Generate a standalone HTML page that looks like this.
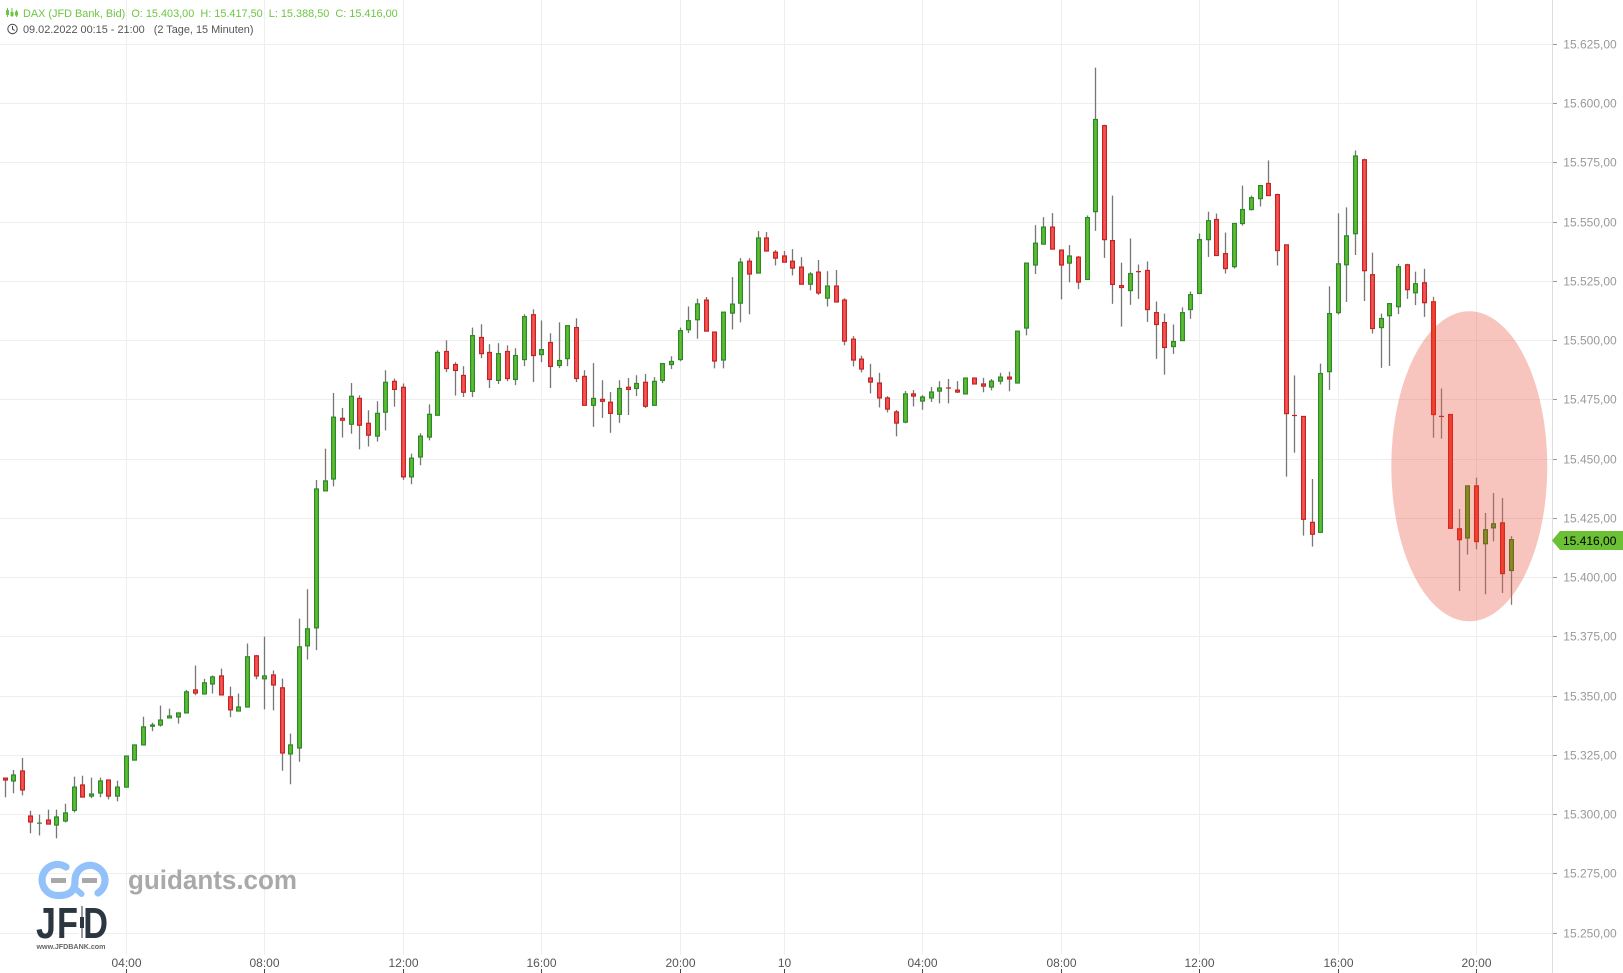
<!DOCTYPE html>
<html lang="de">
<head>
<meta charset="utf-8">
<title>DAX Candlestick Chart</title>
<style>
html,body{margin:0;padding:0;background:#fff;width:1623px;height:973px;overflow:hidden}
svg{display:block;font-family:"Liberation Sans",sans-serif}
</style>
</head>
<body>
<svg id="chart" xmlns="http://www.w3.org/2000/svg" width="1623" height="973" viewBox="0 0 1623 973">
  <rect x="0" y="0" width="1623" height="973" fill="#fff"/>
  <g id="grid"></g>
  <ellipse cx="1469.3" cy="466.3" rx="78" ry="155" fill="rgb(232,89,66)" fill-opacity="0.35"/>
  <g id="candles"></g>
  <g id="axes"></g>
  <g>
    <polygon points="1552,540.5 1560,531 1623,531 1623,550 1560,550" fill="#6cc035"/>
    <text x="1563" y="545" font-size="12" fill="#000">15.416,00</text>
  </g>
  <g>
    <g stroke="#6cc644" fill="none" stroke-width="1">
      <path d="M7.5 8v9M12 8v9M16.5 10v7"/>
      <rect x="6.5" y="10.5" width="2" height="4"/>
      <rect x="11" y="12.5" width="2" height="3"/>
      <rect x="15.5" y="12" width="2" height="3"/>
    </g>
    <text x="23" y="17" font-size="10.9" fill="#6cc644" xml:space="preserve">DAX (JFD Bank, Bid)  O: 15.403,00  H: 15.417,50  L: 15.388,50  C: 15.416,00</text>
    <g stroke="#444" fill="none" stroke-width="1">
      <circle cx="12.5" cy="29" r="4.7"/>
      <path d="M12.5 26v3.2l2.2 1.2"/>
    </g>
    <text x="23" y="33" font-size="10.9" fill="#555" xml:space="preserve">09.02.2022 00:15 - 21:00   (2 Tage, 15 Minuten)</text>
  </g>
  <g>
    <path d="M66 867A15.5 15.5 0 1 0 58 895.5Q75.5 896 75 880.5A15 15 0 1 1 98 893" fill="none" stroke="#93c2fb" stroke-width="7.2" stroke-linecap="round"/>
    <path d="M77 890L81.5 894" fill="none" stroke="#93c2fb" stroke-width="6" stroke-linecap="round"/>
    <rect x="51" y="878" width="15" height="5" fill="#a8a8a8"/>
    <rect x="82" y="878" width="15" height="5" fill="#a8a8a8"/>
    <text x="128" y="889" font-size="26.5" font-weight="bold" fill="#a9a9a9" textLength="169" lengthAdjust="spacingAndGlyphs">guidants.com</text>
    <text x="36" y="938" font-size="44" font-weight="bold" fill="#2b3640" textLength="20" lengthAdjust="spacingAndGlyphs">J</text>
    <text x="57" y="938" font-size="44" font-weight="bold" fill="#2b3640" textLength="21" lengthAdjust="spacingAndGlyphs">F</text>
    <text x="83" y="938" font-size="44" font-weight="bold" fill="#2b3640" textLength="25" lengthAdjust="spacingAndGlyphs">D</text>
    <rect x="78.5" y="905" width="7" height="35" fill="#fff"/>
    <rect x="81.5" y="906" width="1" height="32" fill="#2b3640"/>
    <rect x="80" y="917" width="4" height="11" fill="#2b3640"/>
    <text x="36.5" y="949" font-size="7" font-weight="bold" fill="#666" textLength="69" lengthAdjust="spacingAndGlyphs">www.JFDBANK.com</text>
  </g>
</svg>
<script>
var opens=[15315.4,15314.2,15318.4,15299.4,15296.3,15297.7,15295.6,15297.3,15301.8,15312.5,15307.8,15309.1,15314.6,15307.8,15311.6,15323,15329.4,15337.3,15337.8,15340.8,15341.2,15342.9,15352.6,15350.9,15355.1,15358.5,15349.7,15343.7,15345.4,15367,15357.3,15358.9,15353.5,15325.6,15328.1,15371.2,15378.8,15436.6,15441.6,15467.2,15464.7,15475.6,15465.1,15459.7,15469.8,15482.8,15480.3,15442.5,15450.9,15459.3,15468.5,15495.4,15489.9,15485.3,15478.6,15501.3,15495,15483.2,15495.4,15483.6,15492,15510.9,15494.1,15499.2,15489.5,15492.4,15505.5,15484.9,15472.7,15475.2,15474,15468.9,15480.3,15479.8,15482.4,15472.7,15483.2,15489.9,15492,15504.6,15508.8,15517.1,15503.6,15491.8,15511.6,15515.8,15533.5,15528.5,15543.3,15537.3,15535.7,15533.5,15531,15523.8,15528.9,15517.9,15523,15517.1,15500.6,15492.2,15484.2,15482.1,15475.8,15469.9,15465.6,15477.5,15474.5,15475.8,15478.7,15480,15479.1,15477.5,15484.2,15481.7,15480.4,15482.9,15484.6,15482.1,15505.3,15531.9,15540.7,15547.9,15538.2,15532.7,15535.2,15525.8,15554.4,15590.7,15542.2,15523.2,15521.1,15529.1,15529.6,15511.8,15507.6,15497.5,15500,15513.1,15519.9,15542.6,15551.1,15536.7,15531.2,15549.4,15555.3,15559.9,15566.3,15561.6,15540.4,15468.4,15468,15423.3,15419.1,15486.9,15511.8,15532,15545.1,15576.3,15527.8,15505.5,15510.5,15514.3,15532,15520.2,15524.4,15516.4,15468,15468.8,15420.6,15416.7,15438.7,15414.3,15421,15423.1,15403];
var highs=[15315.4,15318.8,15323.9,15301.6,15300,15302.1,15302.1,15304.6,15316,15316.4,15315.6,15315.6,15314.6,15314.3,15324.7,15329.4,15341.3,15338.8,15346,15344.7,15342.9,15352.6,15362.9,15357.3,15358.7,15361.6,15354,15351.1,15372.2,15367.4,15375.1,15360.8,15357.4,15334.2,15382.7,15395.1,15441.2,15454.4,15477.9,15471.6,15482.1,15476.9,15470.6,15474.4,15487.5,15484,15481.9,15452.3,15460.9,15473.1,15495.9,15500.1,15490.9,15489.2,15505.5,15506.9,15498.5,15498.9,15498,15496.8,15511.1,15513.2,15508.5,15503.1,15507.7,15506.3,15509.4,15487.5,15490.5,15483.3,15478.3,15483.3,15484.2,15485.4,15485.9,15484.6,15490.3,15493.4,15505.5,15514.4,15517.7,15518.4,15503.6,15512,15526.8,15534.8,15534.8,15546.2,15545.8,15538.2,15537.8,15538.6,15535.2,15528.9,15534,15529.3,15529.8,15517.9,15501.9,15493.6,15490.2,15486.4,15476.6,15470.7,15478.7,15479.1,15477,15480.4,15482.9,15483.8,15482.9,15484.2,15484.2,15484.3,15483.8,15486.4,15486.9,15504,15532.7,15548.7,15552.1,15553.8,15538.2,15540.3,15535.7,15552.8,15615.2,15591.1,15561.2,15532.9,15543.1,15532.1,15533.4,15516.5,15511.4,15506.8,15514,15520.7,15545.2,15554.4,15553.6,15545.6,15549.4,15565.4,15561.2,15565.4,15576,15562,15540.4,15485.3,15468,15441.6,15490.3,15522.9,15553.7,15556.2,15580.2,15576.8,15537.1,15511.4,15515.6,15532.4,15532.4,15529.1,15530.3,15518.5,15479.8,15468.8,15429,15438.7,15442.2,15427.3,15435.7,15433.6,15417.5];
var lows=[15307.3,15309,15308.1,15292.1,15291.2,15296,15290,15296.7,15300.9,15307.4,15306.9,15307.3,15306.4,15305.6,15311.6,15323,15329.4,15335.2,15337.1,15340.8,15338.4,15342.9,15350.4,15350.9,15351.1,15350.5,15341.1,15343.7,15345.4,15357.1,15344.4,15344,15318.5,15312.8,15322.3,15365.4,15369.4,15436.6,15438.5,15459.1,15460.7,15454.1,15455.3,15457.4,15462.1,15472.1,15441.2,15439.4,15447.4,15457.9,15468.5,15486.7,15476.8,15476.2,15476.2,15492.6,15480,15481.7,15482.9,15481.2,15489.2,15482.5,15490.9,15480,15488.4,15489.2,15482.5,15472.7,15463.6,15467.4,15461.1,15465.3,15468.6,15476.6,15471.6,15472.7,15482.1,15488,15491.3,15503.2,15500.8,15504,15488.3,15488.3,15504.7,15507.7,15511.1,15528.5,15537.8,15531.7,15533.1,15527.5,15523.8,15521.2,15519.3,15514.4,15516.3,15498,15489.1,15486.6,15477.7,15471.8,15469.7,15459.6,15465.1,15472.2,15470.8,15474.1,15473.5,15473.5,15477.9,15477.5,15481.7,15478.2,15479,15481.5,15478.6,15482.1,15502.2,15528.1,15540.7,15538.6,15517.4,15524.6,15521.7,15525.8,15546.3,15534.9,15515.5,15505.9,15515.1,15517.6,15507.9,15492.3,15485.6,15494.4,15500,15509.2,15519.9,15535.3,15535.9,15528.3,15530.4,15548.5,15554.9,15556.6,15561.2,15531.7,15442.6,15452.7,15417.7,15413.1,15419.1,15479.2,15511,15516.3,15536.1,15516.7,15503,15488.5,15489.3,15511.2,15517.6,15515,15510,15459,15458.6,15420.8,15394.3,15409.7,15411.9,15393,15415.3,15393.5,15388.5];
var closes=[15314.6,15316.7,15310.4,15296.9,15296.4,15296,15299,15300.7,15311.6,15307.4,15308.7,15314.2,15307.8,15311.6,15324.7,15329.4,15337,15337.8,15339.9,15341.6,15342.9,15351.8,15351.3,15355.6,15358.1,15350.5,15344.2,15345.4,15366.6,15358.5,15358.5,15354.7,15326,15329.4,15370.8,15378.4,15437.4,15440.8,15467.7,15466.4,15476.5,15464.3,15460.1,15469.3,15482.4,15479.4,15442.5,15450.4,15459.7,15468.9,15495,15488.2,15487.4,15478.2,15502.1,15494.5,15483.6,15494.5,15484,15493.7,15510.1,15493.7,15496.2,15489.1,15491.6,15506.3,15484,15472.7,15475.6,15474.4,15469.3,15479.8,15479.4,15481.9,15472.3,15482.8,15490.3,15491.2,15504.2,15508.4,15515.5,15504,15491.4,15512,15515.4,15533.1,15528.1,15543.3,15537.8,15534.8,15533.1,15530.6,15523.8,15528.1,15520.1,15523,15516.3,15499.8,15491.8,15488,15482.5,15475.8,15471.1,15465.2,15477.5,15476.6,15476.2,15478.3,15480,15479.9,15478.3,15484.2,15481.7,15480.8,15482.9,15484.6,15483.8,15504,15532.7,15541.1,15547.9,15538.6,15531.9,15535.7,15524.7,15551.9,15593.3,15542.6,15523.7,15522.4,15528.3,15529,15513.1,15506.8,15497.1,15499.6,15511.8,15519.4,15542.6,15550.6,15535.9,15530.4,15549.4,15555.3,15560.3,15565.4,15561.2,15538,15469.2,15468.3,15424.6,15418.3,15486.1,15511.4,15532.4,15544.2,15577.9,15529.5,15505.1,15509.3,15515.6,15531.2,15521.5,15524,15516,15468.8,15467.9,15420.8,15416,15438.7,15415.2,15420.2,15422.7,15401.7,15416];
var xTickIndices=[14,30,46,62,78,90,106,122,138,154,170];
var xTickLabels=["04:00","08:00","12:00","16:00","20:00","10","04:00","08:00","12:00","16:00","20:00"];
var yTickValues=[15250,15275,15300,15325,15350,15375,15400,15425,15450,15475,15500,15525,15550,15575,15600,15625];
var yTickLabels=["15.250,00","15.275,00","15.300,00","15.325,00","15.350,00","15.375,00","15.400,00","15.425,00","15.450,00","15.475,00","15.500,00","15.525,00","15.550,00","15.575,00","15.600,00","15.625,00"];

var NS="http://www.w3.org/2000/svg";
function xScale(i){return Math.floor(5.03+8.656*i)+0.5;}
function yScale(p){return 340.6+(15500-p)*2.37;}
function crisp(v){return Math.floor(v)+0.5;}
function inHighlight(x,y){var dx=(x-1469.3)/78,dy=(y-466.3)/155;return dx*dx+dy*dy<1;}
function make(tag,attrs,parent){
  var el=document.createElementNS(NS,tag);
  for(var k in attrs){el.setAttribute(k,attrs[k]);}
  parent.appendChild(el);
  return el;
}
var grid=document.getElementById('grid');
var axes=document.getElementById('axes');
var candles=document.getElementById('candles');

yTickValues.forEach(function(v,n){
  var y=crisp(yScale(v));
  var line=make('line',{x1:0,x2:1552,y1:y,y2:y,stroke:'#eeeeee','stroke-width':1},grid);
  
  
  var tick=make('line',{x1:1553,x2:1557,y1:y,y2:y,stroke:'#999','stroke-width':1},axes);
  
  
  var label=make('text',{x:1563.3,y:y+4,'font-size':12,fill:'#999'},axes);
  
  
  label.textContent=yTickLabels[n];
});
xTickIndices.forEach(function(idx,n){
  var x=xScale(idx);
  var line=make('line',{x1:x,x2:x,y1:0,y2:955,stroke:'#eeeeee','stroke-width':1},grid);
  
  
  var tick=make('line',{x1:x,x2:x,y1:969,y2:973,stroke:'#444','stroke-width':1},axes);
  
  
  var label=make('text',{x:x,y:967,'font-size':12,fill:'#555','text-anchor':'middle'},axes);
  
  
  label.textContent=xTickLabels[n];
});
var axisLine=make('line',{x1:1552.5,x2:1552.5,y1:0,y2:973,stroke:'#dddddd','stroke-width':1},axes);



opens.forEach(function(o,i){
  var c=closes[i],h=highs[i],l=lows[i];
  var up=c>=o;
  var x=xScale(i);
  var yTop=yScale(Math.max(o,c)),yBot=yScale(Math.min(o,c));
  var inside=inHighlight(x,(yTop+yBot)/2);
  var fill=up?(inside?'#8a8c22':'#60bc30'):(inside?'#f04433':'#f45555');
  var stroke=up?(inside?'#6a6a20':'#2a8a2a'):(inside?'#d62a20':'#c92020');
  var wickColor=inside?'#a0706a':'#777777';
  var wick=make('line',{x1:x,x2:x,y1:yScale(h),y2:yScale(l),stroke:wickColor,'stroke-width':1.3},candles);
  
  
  if(yBot-yTop<0.8){
    var dash=make('line',{x1:x-2.5,x2:x+2.5,y1:yTop,y2:yTop,stroke:stroke,'stroke-width':1.2},candles);
    
    
  }else{
    var body=make('rect',{x:x-1.9,y:yTop,width:3.8,height:yBot-yTop,fill:fill,stroke:stroke,'stroke-width':1.2},candles);
    
    
  }
});
</script>
</body>
</html>
